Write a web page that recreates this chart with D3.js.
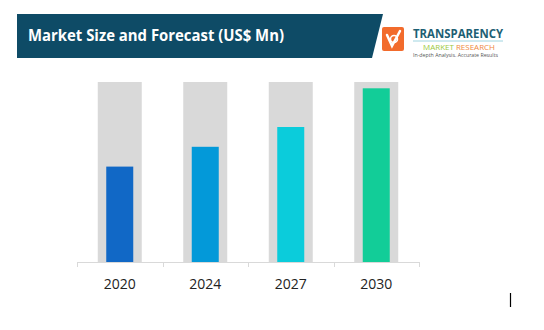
<!DOCTYPE html>
<html>
<head>
<meta charset="utf-8">
<script src="https://cdn.jsdelivr.net/npm/d3@7"></script>
<style>
  body { margin: 0; background: #fff; }
  svg { display: block; }
</style>
</head>
<body>
<svg id="chart" width="544" height="330"></svg>
<script>
// chart data (relative values, track = full scale)
const years = ["2020", "2024", "2027", "2030"];
const values = [53, 64, 75, 96.5];
const trackMax = 100;
const barColors = ["#1168c6", "#0399d9", "#0bccdb", "#12cd98"];

const svg = d3.select("#chart");

// header banner
svg.append("path")
    .attr("d", "M17,14 L383,14 L372,58 L17,58 Z")
    .attr("fill", "#0e4b66");

svg.append("text")
    .attr("x", 28)
    .attr("y", 40.5)
    .attr("fill", "#fff")
    .attr("font-family", "'Open Sans', 'DejaVu Sans', sans-serif")
    .attr("font-weight", "bold")
    .attr("font-size", 15.5)
    .attr("textLength", 256)
    .attr("lengthAdjust", "spacingAndGlyphs")
    .text("Market Size and Forecast (US$ Mn)");

// logo
const logo = svg.append("g");
logo.append("rect")
    .attr("x", 382).attr("y", 27)
    .attr("width", 22).attr("height", 24)
    .attr("rx", 2)
    .attr("fill", "#f26b2c");
logo.append("path")
    .attr("d", "M387,35 L392,46 L400,31")
    .attr("fill", "none")
    .attr("stroke", "#fff")
    .attr("stroke-width", 2.5)
    .attr("stroke-linecap", "round");
logo.append("circle")
    .attr("cx", 394).attr("cy", 39).attr("r", 3.5)
    .attr("fill", "none").attr("stroke", "#fff").attr("stroke-width", 1.5);

logo.append("text")
    .attr("x", 413).attr("y", 37.5)
    .attr("fill", "#1e5f74")
    .attr("font-family", "'Open Sans', sans-serif")
    .attr("font-weight", "bold")
    .attr("font-size", 12)
    .attr("textLength", 90)
    .attr("lengthAdjust", "spacingAndGlyphs")
    .text("TRANSPARENCY");
logo.append("line")
    .attr("x1", 413).attr("x2", 503)
    .attr("y1", 41).attr("y2", 41)
    .attr("stroke", "#9fd4e0").attr("stroke-width", 1);

const mr = logo.append("text")
    .attr("x", 423).attr("y", 49.5)
    .attr("font-family", "'Open Sans', sans-serif")
    .attr("font-size", 7)
    .attr("textLength", 72)
    .attr("lengthAdjust", "spacingAndGlyphs");
mr.append("tspan").attr("fill", "#9cc93c").text("MARKET ");
mr.append("tspan").attr("fill", "#f0883e").text("RESEARCH");

logo.append("text")
    .attr("x", 413).attr("y", 56.5)
    .attr("fill", "#555")
    .attr("font-family", "'Open Sans', sans-serif")
    .attr("font-size", 5)
    .attr("textLength", 85)
    .attr("lengthAdjust", "spacingAndGlyphs")
    .text("In-depth Analysis. Accurate Results");

// chart area
const x = d3.scaleBand()
    .domain(years)
    .range([77, 419]);

const y = d3.scaleLinear()
    .domain([0, trackMax])
    .range([262, 82]);

const trackW = 44;
const barW = 27;

// gray tracks
svg.append("g")
    .selectAll("rect")
    .data(years)
    .join("rect")
    .attr("x", d => x(d) + x.bandwidth() / 2 - trackW / 2)
    .attr("y", y(trackMax))
    .attr("width", trackW)
    .attr("height", y(0) - y(trackMax))
    .attr("fill", "#d9d9d9");

// value bars
svg.append("g")
    .selectAll("rect")
    .data(values)
    .join("rect")
    .attr("x", (d, i) => x(years[i]) + x.bandwidth() / 2 - barW / 2)
    .attr("y", d => y(d))
    .attr("width", barW)
    .attr("height", d => y(0) - y(d))
    .attr("fill", (d, i) => barColors[i]);

// axis baseline and separators
const axis = svg.append("g");
axis.append("line")
    .attr("x1", 77).attr("x2", 419)
    .attr("y1", 262.5).attr("y2", 262.5)
    .attr("stroke", "#d9d9d9");
const seps = [77].concat(years.map(d => x(d) + x.bandwidth()));
axis.selectAll(".tick")
    .data(seps)
    .join("line")
    .attr("class", "tick")
    .attr("x1", d => Math.round(d) + 0.5).attr("x2", d => Math.round(d) + 0.5)
    .attr("y1", 262).attr("y2", 267)
    .attr("stroke", "#d9d9d9");

axis.selectAll(".lbl")
    .data(years)
    .join("text")
    .attr("class", "lbl")
    .attr("x", d => x(d) + x.bandwidth() / 2)
    .attr("y", 288.5)
    .attr("text-anchor", "middle")
    .attr("fill", "#222")
    .attr("font-family", "'Open Sans', sans-serif")
    .attr("font-size", 14)
    .text(d => d);

// stray cursor mark
svg.append("line")
    .attr("x1", 510.5).attr("x2", 510.5)
    .attr("y1", 293).attr("y2", 307)
    .attr("stroke", "#000").attr("stroke-width", 1.2);
</script>
</body>
</html>
